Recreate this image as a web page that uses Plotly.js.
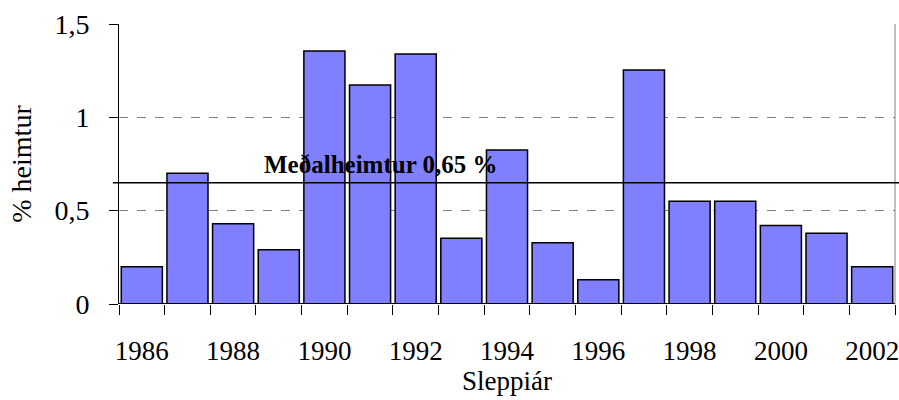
<!DOCTYPE html>
<html>
<head>
<meta charset="utf-8">
<script src="https://cdn.plot.ly/plotly-3.0.1.min.js"></script>
<style>html,body{margin:0;padding:0;background:#fff;}#chart{width:899px;height:400px;}</style>
</head>
<body>
<div id="chart"></div>
<script>
const years = [1986,1987,1988,1989,1990,1991,1992,1993,1994,1995,1996,1997,1998,1999,2000,2001,2002];
const returnPct = [0.20,0.70,0.43,0.29,1.355,1.173,1.339,0.352,0.825,0.328,0.13,1.253,0.55,0.55,0.42,0.379,0.20];
const meanValue = 0.65;
const meanLabel = 'Meðalheimtur 0,65 %';
const xTickVals = [1986,1988,1990,1992,1994,1996,1998,2000,2002];
const yTickVals = [0,0.5,1,1.5];
const yTickText = ['0','0,5','1','1,5'];

const font = 'Liberation Serif, Times New Roman, serif';

const trace = {
  type: 'bar',
  x: years,
  y: returnPct,
  marker: {color: '#8080FF', line: {color: '#000', width: 1.5}},
  width: 0.9,
  hoverinfo: 'x+y'
};

const layout = {
  width: 899, height: 400,
  margin: {l: 119, r: 4, t: 24, b: 96},
  paper_bgcolor: '#fff', plot_bgcolor: '#fff',
  showlegend: false,
  separators: ', ',
  font: {family: font, color: '#000', size: 27},
  xaxis: {
    range: [1985.5, 2002.5],
    tickvals: xTickVals,
    ticktext: xTickVals.map(String),
    ticks: '', showgrid: false, zeroline: false,
    showline: false,
    ticklabelstandoff: 28,
    ticklabeloverflow: 'allow',
    tickfont: {family: font, size: 27, color: '#000'},
    minor: {tick0: 1985.5, dtick: 1, ticks: 'outside', ticklen: 10, tickcolor: '#000', tickwidth: 1, showgrid: false},
    title: {text: 'Sleppiár', font: {family: font, size: 27, color: '#000'}, standoff: 0}
  },
  yaxis: {
    range: [0, 1.5],
    tickvals: yTickVals,
    ticktext: yTickText,
    ticks: 'outside', ticklen: 9, tickcolor: '#000',
    showline: true, linecolor: '#000', linewidth: 1,
    showgrid: true, gridcolor: '#808080', griddash: 'dash', gridwidth: 1,
    zeroline: false,
    ticklabelstandoff: 14,
    tickfont: {family: font, size: 28, color: '#000'},
    title: {text: '% heimtur', font: {family: font, size: 28, color: '#000'}, standoff: 14}
  },
  shapes: [
    {type: 'line', xref: 'paper', yref: 'y', x0: 0, x1: 1, y0: 0, y1: 0, line: {color: '#000', width: 2}},
    {type: 'line', xref: 'paper', yref: 'paper', x0: 1, x1: 1, y0: 0, y1: 1, line: {color: '#808080', width: 1}},
    {type: 'line', xref: 'paper', yref: 'y', x0: -0.008, x1: 1.006, y0: meanValue, y1: meanValue, line: {color: '#000', width: 1.5}}
  ],
  annotations: [
    {xref: 'x', yref: 'y', x: 1988.63, y: meanValue + 0.095, xanchor: 'left', yanchor: 'middle',
     text: '<b>' + meanLabel + '</b>', showarrow: false,
     font: {family: font, size: 25, color: '#000'}}
  ]
};

Plotly.newPlot('chart', [trace], layout, {displayModeBar: false, staticPlot: true});
</script>
</body>
</html>
